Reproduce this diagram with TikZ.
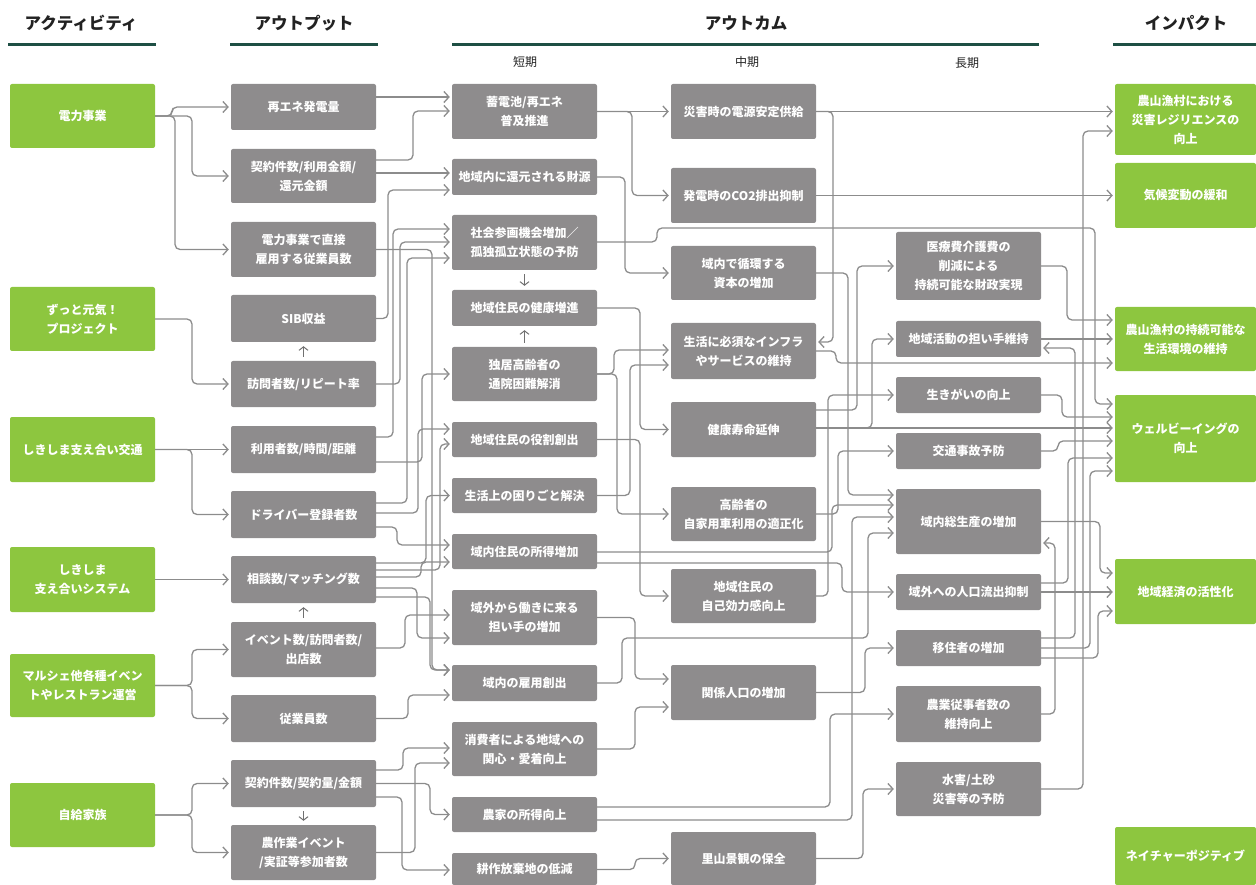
\documentclass[tikz,border=0pt]{standalone}
\usepackage{fontspec}
\setmainfont{Noto Sans CJK JP}
\usetikzlibrary{arrows.meta}
\definecolor{gfill}{HTML}{8DC63F}
\definecolor{bfill}{HTML}{8E8C8D}
\definecolor{lc}{HTML}{8C8C8C}
\definecolor{hlc}{HTML}{1E4F44}
\definecolor{htc}{HTML}{222222}
\newcommand\bx[7]{\node[#2, minimum width={(#4)-(#3)}, minimum height={(#6)-(#5)}] (#1) at ({((#3)+(#4))/2},{((#5)+(#6))/2}) {#7};}
\newcommand\cn[5]{\draw[conn] (#1.east |- 0,#2) -- (#3,#2) -- (#3,#5) -- (#4.west |- 0,#5);}
\newcommand\st[3]{\draw[conn] (#1.east |- 0,#2) -- (#3.west |- 0,#2);}
\begin{document}
\begin{tikzpicture}[x=1pt,y=-1pt,
  cbox/.style={rectangle, rounded corners=2pt, inner sep=0pt, text=white, align=center, font=\fontsize{12pt}{19pt}\selectfont\bfseries},
  gbox/.style={cbox, fill=gfill},
  bbox/.style={cbox, fill=bfill},
  conn/.style={draw=lc, line width=1.3pt, rounded corners=5pt, shorten >=2pt, -{Straight Barb[length=5pt,width=11pt]}},
  sarr/.style={draw=lc!80!black, line width=1pt, shorten <=4pt, shorten >=4pt, -{Straight Barb[length=3.5pt,width=9pt]}},
  hdr/.style={text=htc, font=\fontsize{16.5pt}{16.5pt}\selectfont\bfseries},
  sub/.style={text=htc, font=\fontsize{12pt}{12pt}\selectfont},
  hline/.style={draw=hlc, line width=3pt}]
\path[use as bounding box] (0,0) rectangle (1256,885);
% headers
\node[hdr] (h1) at (81,23) {アクティビティ};
\node[hdr] (h2) at (304,23) {アウトプット};
\node[hdr] (h3) at (746,23) {アウトカム};
\node[hdr] (h4) at (1186,23) {インパクト};
\draw[hline] (8,45) -- (156,45);
\draw[hline] (230,45) -- (378,45);
\draw[hline] (452,45) -- (1039,45);
\draw[hline] (1113,45) -- (1256,45);
\node[sub] (t1) at (525,62) {短期};
\node[sub] (t2) at (747,62) {中期};
\node[sub] (t3) at (967,63) {長期};
% activities
\bx{act1}{gbox}{10}{155}{84}{148}{電力事業}
\bx{act2}{gbox}{10}{155}{287}{351}{ずっと元気！\\プロジェクト}
\bx{act3}{gbox}{10}{155}{417}{482}{しきしま支え合い交通}
\bx{act4}{gbox}{10}{155}{547}{612}{しきしま\\支え合いシステム}
\bx{act5}{gbox}{10}{155}{654}{717}{マルシェ他各種イベン\\トやレストラン運営}
\bx{act6}{gbox}{10}{155}{783}{847}{自給家族}
% outputs
\bx{o1}{bbox}{231}{376}{84}{130}{再エネ発電量}
\bx{o2}{bbox}{231}{376}{149}{203}{契約件数/利用金額/\\還元金額}
\bx{o3}{bbox}{231}{376}{222}{277}{電力事業で直接\\雇用する従業員数}
\bx{o4}{bbox}{231}{376}{295}{342}{SIB収益}
\bx{o5}{bbox}{231}{376}{361}{407}{訪問者数/リピート率}
\bx{o6}{bbox}{231}{376}{426}{473}{利用者数/時間/距離}
\bx{o7}{bbox}{231}{376}{491}{538}{ドライバー登録者数}
\bx{o8}{bbox}{231}{376}{556}{603}{相談数/マッチング数}
\bx{o9}{bbox}{231}{376}{622}{677}{イベント数/訪問者数/\\出店数}
\bx{o10}{bbox}{231}{376}{695}{742}{従業員数}
\bx{o11}{bbox}{231}{376}{760}{807}{契約件数/契約量/金額}
\bx{o12}{bbox}{231}{376}{825}{880}{農作業イベント\\/実証等参加者数}
% short-term
\bx{s1}{bbox}{452}{597}{84}{139}{蓄電池/再エネ\\普及推進}
\bx{s2}{bbox}{452}{597}{159}{195}{地域内に還元される財源}
\bx{s3}{bbox}{452}{597}{215}{270}{社会参画機会増加／\\孤独孤立状態の予防}
\bx{s4}{bbox}{452}{597}{290}{326}{地域住民の健康増進}
\bx{s5}{bbox}{452}{597}{347}{401}{独居高齢者の\\通院困難解消}
\bx{s6}{bbox}{452}{597}{422}{457}{地域住民の役割創出}
\bx{s7}{bbox}{452}{597}{478}{513}{生活上の困りごと解決}
\bx{s8}{bbox}{452}{597}{534}{569}{域内住民の所得増加}
\bx{s9}{bbox}{452}{597}{590}{645}{域外から働きに来る\\担い手の増加}
\bx{s10}{bbox}{452}{597}{665}{701}{域内の雇用創出}
\bx{s11}{bbox}{452}{597}{722}{776}{消費者による地域への\\関心・愛着向上}
\bx{s12}{bbox}{452}{597}{797}{832}{農家の所得向上}
\bx{s13}{bbox}{452}{597}{853}{885}{耕作放棄地の低減}
% medium-term
\bx{m1}{bbox}{671}{816}{84}{139}{災害時の電源安定供給}
\bx{m2}{bbox}{671}{816}{168}{223}{発電時のCO2排出抑制}
\bx{m3}{bbox}{671}{816}{246}{300}{域内で循環する\\資本の増加}
\bx{m4}{bbox}{671}{816}{323}{379}{生活に必須なインフラ\\やサービスの維持}
\bx{m5}{bbox}{671}{816}{402}{457}{健康寿命延伸}
\bx{m6}{bbox}{671}{816}{487}{541}{高齢者の\\自家用車利用の適正化}
\bx{m7}{bbox}{671}{816}{569}{623}{地域住民の\\自己効力感向上}
\bx{m8}{bbox}{671}{816}{665}{720}{関係人口の増加}
\bx{m9}{bbox}{671}{816}{832}{885}{里山景観の保全}
% long-term
\bx{l1}{bbox}{896}{1041}{232}{300}{医療費介護費の\\削減による\\持続可能な財政実現}
\bx{l2}{bbox}{896}{1041}{321}{357}{地域活動の担い手維持}
\bx{l3}{bbox}{896}{1041}{377}{413}{生きがいの向上}
\bx{l4}{bbox}{896}{1041}{433}{469}{交通事故予防}
\bx{l5}{bbox}{896}{1041}{489}{554}{域内総生産の増加}
\bx{l6}{bbox}{896}{1041}{574}{610}{域外への人口流出抑制}
\bx{l7}{bbox}{896}{1041}{630}{666}{移住者の増加}
\bx{l8}{bbox}{896}{1041}{686}{742}{農業従事者数の\\維持向上}
\bx{l9}{bbox}{896}{1041}{762}{816}{水害/土砂\\災害等の予防}
% impacts
\bx{i1}{gbox}{1115}{1256}{84}{155}{農山漁村における\\災害レジリエンスの\\向上}
\bx{i2}{gbox}{1115}{1256}{163}{228}{気候変動の緩和}
\bx{i3}{gbox}{1115}{1256}{307}{371}{農山漁村の持続可能な\\生活環境の維持}
\bx{i4}{gbox}{1115}{1256}{395}{482}{ウェルビーイングの\\向上}
\bx{i5}{gbox}{1115}{1256}{559}{624}{地域経済の活性化}
\bx{i6}{gbox}{1115}{1256}{827}{885}{ネイチャーポジティブ}
% activity -> output
\cn{act1}{116}{172}{o1}{107}
\cn{act1}{116}{192}{o2}{176}
\cn{act1}{116}{175}{o3}{249.5}
\cn{act2}{319}{192}{o5}{384}
\st{act3}{449.5}{o6}
\cn{act3}{449.5}{192}{o7}{514.5}
\st{act4}{579.5}{o8}
\cn{act5}{685.5}{192}{o9}{649.5}
\cn{act5}{685.5}{192}{o10}{718.5}
\cn{act6}{815}{192}{o11}{783.5}
\cn{act6}{815}{192}{o12}{852.5}
% small vertical arrows
\draw[sarr] (o5.north) -- (o4.south);
\draw[sarr] (o9.north) -- (o8.south);
\draw[sarr] (o11.south) -- (o12.north);
\draw[sarr] (s3.south) -- (s4.north);
\draw[sarr] (s5.north) -- (s4.south);
% output -> short
\st{o1}{97}{s1}
\cn{o2}{160}{413}{s1}{111}
\st{o2}{173}{s2}
\cn{o4}{318.5}{388}{s2}{190}
\cn{o6}{437}{393}{s3}{229}
\cn{o5}{384}{400}{s3}{242}
\cn{o7}{503}{407}{s3}{258}
\cn{o3}{249.5}{432}{s10}{670}
\cn{o6}{462}{422}{s5}{374}
\cn{o7}{513}{418}{s6}{429}
\cn{o7}{527}{397}{s8}{545}
\cn{o8}{563}{426}{s7}{495.5}
\cn{o8}{570}{440}{s6}{444}
\cn{o8}{577}{421}{s8}{562}
\cn{o8}{588}{417}{s9}{638}
\cn{o8}{597}{430}{s10}{670}
\cn{o9}{648}{405}{s9}{615}
\cn{o10}{718.5}{408}{s10}{695}
\cn{o11}{770}{403}{s11}{748}
\cn{o11}{783.5}{430}{s12}{814.5}
\cn{o11}{797}{402}{s13}{870}
\cn{o12}{852.5}{415}{s11}{763}
% short -> medium / beyond
\st{s1}{111.5}{m1}
\cn{s1}{111.5}{632}{m2}{195.5}
\cn{s2}{177}{625}{m3}{273}
\draw[conn] (s3.east |- 0,242) -- (657,242) -- (657,228) -- (1095,228) -- (1095,404) -- (i4.west |- 0,404);
\cn{s4}{308}{640}{m5}{429.5}
\cn{s5}{374}{614}{m4}{350}
\cn{s5}{374}{617}{m6}{514}
\cn{s7}{495.5}{630}{m4}{365}
\cn{s6}{439.5}{640}{m7}{596}
\cn{s9}{617.5}{635}{m8}{679}
\cn{s11}{749}{635}{m8}{707}
\cn{s13}{869.5}{635}{m9}{858.5}
\cn{s8}{552}{832}{l5}{505}
\cn{s8}{563}{842}{l6}{592}
\draw[conn] (s10.east |- 0,683) -- (622,683) -- (622,638) -- (868,638) -- (868,533) -- (l5.west |- 0,533);
\cn{s12}{807}{830}{l8}{714}
\cn{s12}{820}{852}{l5}{517}
% medium -> long / impact
\st{m1}{111.5}{i1}
\draw[conn] (m1.east |- 0,111.5) -- (833,111.5) -- (833,342) -- (m4.east |- 0,342);
\st{m2}{195.5}{i2}
\cn{m3}{273}{848}{l5}{495}
\cn{m4}{351}{836}{i3}{363}
\cn{m5}{410}{857}{l1}{266}
\cn{m5}{428}{872}{l2}{339}
\st{m5}{428}{i4}
\cn{m6}{514}{838}{l4}{451}
\cn{m7}{596}{828}{l3}{395}
\cn{m8}{692.5}{865}{l7}{648}
\cn{m9}{858.5}{863}{l9}{789}
% long -> impact
\cn{l1}{266}{1067}{i3}{320}
\st{l2}{339}{i3}
\cn{l3}{395}{1062}{i4}{417}
\cn{l4}{451}{1058}{i4}{441}
\cn{l5}{521.5}{1100}{i5}{573}
\cn{l6}{583}{1068}{i4}{458}
\st{l6}{592}{i5}
\draw[conn] (l7.east |- 0,638) -- (1075,638) -- (1075,348) -- (l2.east |- 0,348);
\cn{l7}{648}{1090}{i4}{471}
\cn{l7}{658}{1098}{i5}{611}
\draw[conn] (l8.east |- 0,714) -- (1055,714) -- (1055,543) -- (l5.east |- 0,543);
\cn{l9}{789}{1083}{i1}{131}
\end{tikzpicture}
\end{document}
